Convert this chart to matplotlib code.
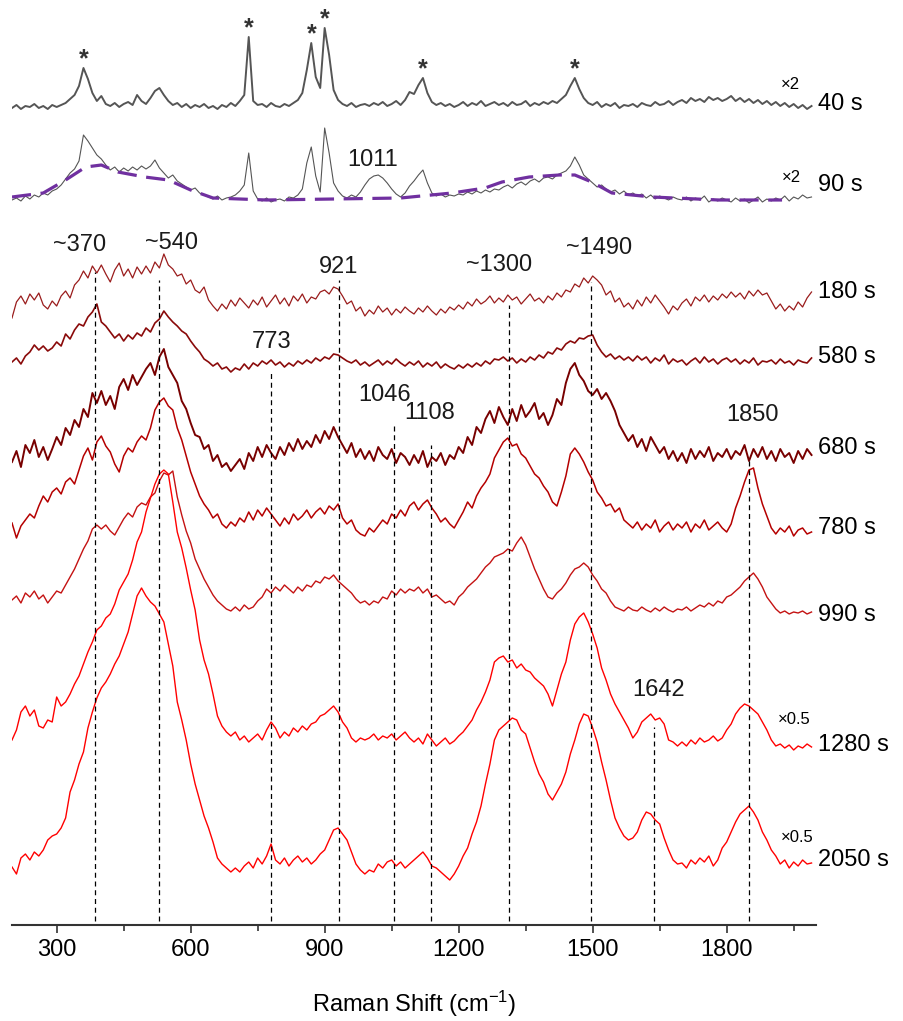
import numpy as np
import matplotlib.pyplot as plt

plt.rcParams['font.family'] = ['Liberation Sans', 'DejaVu Sans']
plt.rcParams['mathtext.fontset'] = 'custom'
plt.rcParams['mathtext.rm'] = 'Liberation Sans'
plt.rcParams['mathtext.it'] = 'Liberation Sans:italic'

# Raman shift grid (cm-1), one value every 10 cm-1
shift = np.arange(200, 2000, 10)

# intensities (arbitrary units, baseline removed)
s40 = [2, 5, 1, 4, 3, 6, 2, 4, 1, 5,
       3, 5, 7, 11, 15, 24, 42, 31, 17, 9,
       14, 6, 4, 7, 3, 6, 8, 5, 15, 9,
       6, 12, 19, 22, 15, 9, 5, 7, 3, 6,
       2, 5, 3, 6, 2, 4, 1, 5, 3, 7,
       4, 9, 15, 73, 9, 5, 6, 3, 7, 4,
       3, 6, 4, 7, 10, 17, 40, 67, 33, 22,
       82, 55, 20, 10, 6, 4, 7, 3, 5, 6,
       4, 7, 5, 8, 4, 6, 9, 5, 10, 18,
       16, 25, 32, 17, 8, 5, 7, 4, 6, 3,
       5, 8, 4, 7, 5, 9, 4, 6, 8, 5,
       7, 4, 8, 5, 6, 9, 4, 7, 5, 8,
       6, 9, 7, 11, 15, 24, 32, 21, 12, 7,
       5, 8, 3, 6, 4, 7, 2, 5, 4, 6,
       3, 7, 5, 4, 8, 5, 6, 9, 5, 8,
       10, 7, 12, 9, 11, 8, 13, 10, 12, 9,
       11, 14, 9, 12, 8, 11, 7, 10, 6, 9,
       5, 8, 4, 7, 3, 6, 2, 5, 1, 4]

s90 = [3, 5, 2, 7, 4, 8, 6, 10, 8, 12,
       14, 18, 24, 30, 34, 42, 68, 62, 55, 48,
       44, 38, 33, 36, 31, 35, 32, 36, 33, 37,
       34, 37, 43, 35, 30, 25, 28, 22, 19, 16,
       13, 15, 10, 8, 6, 4, 7, 3, 5, 6,
       8, 12, 18, 50, 12, 4, 2, 5, 1, 3,
       4, 2, 6, 5, 8, 14, 40, 56, 27, 11,
       75, 50, 20, 12, 7, 5, 8, 6, 11, 18,
       24, 27, 28, 25, 20, 14, 9, 6, 10, 17,
       22, 28, 33, 20, 10, 7, 9, 6, 8, 7,
       9, 8, 11, 9, 12, 10, 13, 11, 14, 13,
       16, 18, 15, 19, 21, 18, 22, 24, 21, 25,
       26, 24, 28, 30, 32, 37, 46, 38, 28, 24,
       20, 16, 18, 14, 11, 13, 9, 12, 8, 10,
       7, 9, 5, 8, 4, 7, 5, 3, 6, 4,
       3, 6, 2, 5, 3, 7, 1, 4, 2, 5,
       3, 1, 5, 2, 4, 0, 3, 6, 1, 4,
       2, 5, 3, 7, 2, 6, 4, 8, 5, 6]

s180 = [2, 18, 24, 16, 26, 20, 27, 15, 11, 19,
        14, 24, 29, 22, 35, 40, 49, 42, 54, 47,
        55, 46, 38, 50, 57, 44, 51, 42, 53, 46,
        54, 47, 58, 52, 66, 55, 51, 44, 46, 36,
        40, 30, 27, 33, 20, 14, 9, 16, 11, 20,
        14, 22, 17, 12, 20, 15, 23, 13, 19, 25,
        16, 22, 14, 24, 19, 26, 17, 23, 21, 28,
        30, 26, 33, 31, 24, 16, 19, 9, 13, 4,
        10, 6, 14, 8, 12, 5, 11, 7, 13, 9,
        6, 12, 8, 14, 9, 5, 11, 7, 13, 10,
        15, 11, 18, 14, 21, 16, 19, 24, 17, 22,
        18, 25, 20, 23, 16, 21, 26, 19, 22, 17,
        24, 20, 27, 23, 30, 28, 36, 33, 42, 37,
        44, 40, 35, 25, 29, 18, 22, 13, 17, 11,
        20, 14, 23, 17, 25, 19, 13, 6, 14, 10,
        17, 21, 14, 23, 19, 25, 18, 24, 20, 26,
        22, 28, 23, 27, 21, 29, 24, 30, 25, 27,
        19, 11, 16, 9, 14, 10, 18, 13, 22, 28]

s580 = [10, 14, 8, 16, 20, 27, 22, 26, 21, 24,
        30, 26, 38, 33, 42, 48, 46, 55, 60, 68,
        50, 46, 40, 34, 38, 31, 37, 33, 39, 36,
        44, 40, 49, 53, 61, 55, 50, 46, 41, 38,
        31, 25, 20, 13, 10, 6, 9, 3, 5, 0,
        4, 2, 8, 3, 9, 6, 11, 8, 12, 7,
        10, 5, 9, 6, 11, 8, 12, 9, 14, 11,
        15, 13, 18, 17, 14, 11, 9, 12, 7, 10,
        6, 9, 12, 7, 11, 8, 13, 9, 6, 10,
        7, 11, 5, 9, 6, 10, 4, 8, 5, 3,
        7, 4, 8, 5, 9, 6, 11, 8, 13, 12,
        15, 11, 14, 9, 13, 10, 15, 12, 17, 14,
        20, 18, 24, 22, 28, 31, 29, 34, 33, 36,
        37, 27, 20, 15, 18, 13, 16, 12, 15, 11,
        16, 12, 15, 9, 14, 11, 17, 8, 13, 10,
        12, 7, 11, 14, 9, 15, 10, 13, 8, 12,
        14, 10, 13, 8, 12, 9, 14, 7, 11, 10,
        12, 8, 13, 9, 11, 7, 12, 10, 9, 14]

s680 = [13, 24, 8, 30, 22, 35, 18, 28, 15, 26,
        38, 30, 47, 40, 55, 48, 66, 58, 82, 72,
        84, 70, 79, 66, 88, 96, 85, 100, 90, 98,
        106, 112, 100, 118, 126, 108, 100, 92, 74, 66,
        52, 40, 38, 26, 30, 14, 20, 8, 12, 4,
        10, 16, 6, 22, 14, 28, 18, 30, 22, 16,
        28, 20, 32, 24, 36, 26, 34, 28, 40, 32,
        44, 36, 48, 38, 30, 22, 32, 18, 26, 16,
        24, 14, 28, 20, 16, 26, 12, 22, 18, 10,
        20, 12, 24, 8, 18, 14, 22, 10, 20, 16,
        28, 22, 38, 30, 48, 42, 56, 64, 52, 68,
        58, 50, 66, 54, 70, 58, 64, 72, 56, 62,
        50, 60, 76, 70, 92, 106, 112, 100, 94, 84,
        80, 86, 76, 82, 74, 64, 50, 42, 34, 40,
        28, 36, 24, 38, 30, 22, 28, 16, 24, 14,
        22, 12, 26, 16, 24, 18, 28, 14, 22, 18,
        26, 16, 24, 20, 30, 14, 26, 18, 28, 16,
        24, 14, 26, 18, 22, 12, 24, 16, 26, 20]

s780 = [17, 2, 14, 20, 26, 22, 34, 44, 38, 48,
        52, 46, 58, 62, 56, 70, 84, 92, 80, 98,
        104, 94, 88, 76, 68, 84, 92, 88, 98, 104,
        100, 112, 130, 138, 142, 134, 130, 112, 100, 84,
        68, 56, 44, 36, 30, 22, 26, 16, 12, 18,
        14, 22, 18, 28, 20, 30, 24, 32, 26, 20,
        14, 22, 16, 26, 20, 24, 30, 22, 28, 32,
        26, 34, 30, 36, 22, 16, 20, 10, 6, 4,
        12, 8, 14, 20, 16, 26, 22, 30, 24, 34,
        38, 30, 36, 40, 32, 26, 18, 22, 16, 12,
        20, 28, 38, 32, 44, 52, 58, 66, 82, 90,
        98, 102, 94, 96, 86, 82, 74, 66, 62, 54,
        48, 38, 34, 48, 64, 86, 92, 86, 78, 68,
        60, 48, 42, 34, 36, 28, 32, 20, 16, 12,
        18, 10, 16, 12, 20, 8, 14, 18, 10, 16,
        12, 18, 8, 16, 12, 20, 10, 14, 18, 12,
        8, 16, 32, 44, 58, 70, 72, 52, 36, 24,
        12, 6, 12, 8, 14, 4, 10, 12, 6, 8]

s990 = [15, 19, 12, 22, 18, 24, 16, 20, 12, 18,
        24, 22, 30, 38, 46, 56, 66, 74, 86, 90,
        86, 90, 84, 80, 88, 96, 102, 98, 108, 112,
        110, 118, 122, 134, 142, 140, 144, 118, 100, 84,
        72, 56, 46, 36, 28, 20, 14, 10, 6, 4,
        8, 4, 10, 6, 8, 14, 18, 26, 22, 28,
        24, 30, 26, 22, 28, 24, 30, 28, 34, 32,
        38, 36, 40, 34, 30, 26, 22, 16, 12, 14,
        10, 14, 12, 18, 16, 24, 20, 26, 22, 26,
        24, 28, 22, 26, 18, 20, 16, 12, 14, 10,
        18, 22, 28, 32, 36, 42, 48, 52, 58, 60,
        62, 66, 64, 72, 78, 70, 58, 46, 36, 26,
        18, 16, 22, 26, 32, 40, 46, 48, 52, 48,
        40, 34, 26, 22, 14, 8, 6, 4, 8, 5,
        4, 8, 5, 3, 7, 4, 8, 5, 3, 6,
        5, 8, 4, 7, 10, 8, 12, 9, 14, 12,
        18, 20, 24, 28, 34, 38, 42, 36, 28, 18,
        12, 6, 2, 4, 1, 3, 2, 4, 1, 3]

s1280 = [10, 20, 38, 44, 34, 40, 24, 22, 30, 28,
         53, 44, 48, 56, 66, 74, 86, 98, 108, 120,
         124, 132, 136, 146, 160, 168, 176, 190, 208, 218,
         238, 252, 266, 276, 280, 276, 248, 218, 202, 182,
         160, 140, 110, 90, 76, 56, 34, 24, 18, 14,
         18, 10, 14, 8, 12, 16, 10, 20, 28, 22,
         12, 18, 14, 22, 18, 24, 20, 26, 28, 34,
         36, 40, 44, 38, 28, 22, 12, 8, 12, 10,
         12, 16, 10, 14, 12, 16, 10, 14, 18, 12,
         8, 12, 6, 16, 10, 4, 8, 12, 6, 9,
         14, 18, 24, 30, 40, 48, 58, 70, 88, 92,
         94, 88, 90, 82, 86, 80, 78, 72, 68, 64,
         56, 44, 60, 76, 88, 110, 126, 133, 137, 128,
         116, 102, 82, 70, 56, 46, 38, 30, 22, 12,
         18, 28, 32, 36, 30, 32, 26, 10, 8, 4,
         8, 4, 10, 6, 12, 8, 10, 14, 9, 12,
         20, 26, 36, 42, 46, 44, 40, 36, 28, 20,
         10, 4, 6, 2, 5, 0, 4, 2, 6, 3]

s2050 = [13, 6, 22, 26, 20, 28, 24, 30, 40, 44,
         46, 52, 62, 88, 100, 116, 128, 152, 168, 182,
         192, 198, 206, 216, 224, 236, 248, 266, 284, 292,
         284, 278, 274, 266, 258, 236, 214, 178, 160, 140,
         116, 96, 80, 64, 52, 38, 22, 16, 12, 8,
         12, 8, 14, 18, 12, 22, 16, 24, 36, 20,
         16, 22, 14, 20, 24, 18, 22, 16, 20, 26,
         30, 40, 50, 52, 46, 40, 28, 16, 10, 6,
         10, 8, 16, 12, 18, 20, 14, 18, 12, 16,
         20, 24, 28, 22, 14, 12, 8, 4, 0, 6,
         14, 24, 32, 46, 58, 74, 96, 116, 140, 150,
         154, 158, 162, 160, 150, 146, 132, 118, 106, 98,
         86, 80, 88, 96, 108, 126, 140, 156, 166, 164,
         152, 138, 118, 100, 80, 62, 52, 44, 40, 42,
         48, 60, 68, 66, 60, 56, 42, 30, 20, 16,
         17, 12, 20, 16, 22, 18, 24, 14, 20, 32,
         38, 48, 58, 66, 70, 74, 68, 60, 48, 40,
         30, 24, 16, 20, 12, 18, 14, 20, 16, 17]

# background drawn under the 90 s spectrum
fit_x = [200, 270, 320, 365, 400, 437, 497, 550, 600, 650, 770, 920, 1070,
         1185, 1259, 1297, 1358, 1425, 1460, 1498, 1543, 1633, 1783, 1924]
fit_y = [6, 10, 23, 36, 38, 31, 26, 23, 13, 5, 3, 4, 5,
         10, 15, 21, 26, 28, 28, 21, 10, 6, 3, 3]

spectra = [s40, s90, s180, s580, s680, s780, s990, s1280, s2050]
times = ['40 s', '90 s', '180 s', '580 s', '680 s', '780 s', '990 s', '1280 s', '2050 s']
baselines = [815, 722, 605, 553, 450, 385, 310, 175, 45]
label_y = [821, 740, 633, 568, 477, 397, 310, 180, 65]
colors = ['#555555', '#555555', '#9a1c1c', '#8a0a0a', '#780000',
          '#b50000', '#c41212', '#ff0000', '#ff0000']
widths = [1.4, 0.8, 0.9, 1.2, 1.4, 1.1, 1.0, 1.0, 1.0]

# marked bands: position, top of the dashed guide
band_x = [386, 528, 779, 933, 1055, 1139, 1312, 1497, 1637, 1849]
band_top = [653, 645, 553, 645, 500, 480, 620, 643, 198, 467]

band_labels = ['~370', '~540', '921', '773', '1046', '1108', '~1300', '~1490', '1642', '1850', '1011']
band_label_xy = [(352, 680), (558, 682), (930, 658), (780, 583), (1035, 530), (1136, 512),
                 (1290, 660), (1514, 677), (1648, 235), (1857, 510), (1008, 765)]

star_x = [360, 730, 870, 900, 1120, 1460]

scale_text = ['×2', '×2', '×0.5', '×0.5']
scale_xy = [(1942, 840), (1946, 748), (1951, 205), (1957, 88)]

fig = plt.figure(figsize=(9.04, 10.21), dpi=100)
ax = fig.add_axes([12 / 904, 96 / 1021, 804 / 904, 925 / 1021])

for sp, base, c, w in zip(spectra, baselines, colors, widths):
    ax.plot(shift, base + np.array(sp), color=c, lw=w)

ax.plot(fit_x, baselines[1] + np.array(fit_y), color='#7030a0', lw=2.3, dashes=(6, 3))

for x, top in zip(band_x, band_top):
    ax.plot([x, x], [4, top], color='black', lw=0.9, dashes=(4, 3), zorder=3)

for t, (x, y) in zip(band_labels, band_label_xy):
    ax.text(x, y, t, fontsize=17, ha='center', va='center', color='#1a1a1a')

s40_arr = np.array(s40)
for x in star_x:
    near = np.abs(shift - x) <= 10
    ax.text(x, baselines[0] + s40_arr[near].max() + 9, '*', fontsize=18,
            ha='center', va='center', color='#333333', fontweight='bold')

for t, y in zip(times, label_y):
    ax.text(2004, y, t, fontsize=17, ha='left', va='center', clip_on=False)

for t, (x, y) in zip(scale_text, scale_xy):
    ax.text(x, y, t, fontsize=12, ha='center', va='center', clip_on=False)

ax.set_xlim(200, 2000)
ax.set_ylim(0, 925)
for side in ['left', 'right', 'top']:
    ax.spines[side].set_visible(False)
ax.spines['bottom'].set_linewidth(1.5)
ax.spines['bottom'].set_color('#333333')
ax.set_yticks([])
ax.set_xticks([300, 600, 900, 1200, 1500, 1800])
ax.set_xticks([450, 750, 1050, 1350, 1650, 1950], minor=True)
ax.tick_params(axis='x', which='major', length=6, width=1.2, color='#333333',
               labelsize=17, pad=4)
ax.tick_params(axis='x', which='minor', length=4, width=1.2, color='#333333')
ax.set_xlabel('Raman Shift (cm$^{-1}$)', fontsize=17, labelpad=20)

fig.savefig('out.png', dpi=100)
